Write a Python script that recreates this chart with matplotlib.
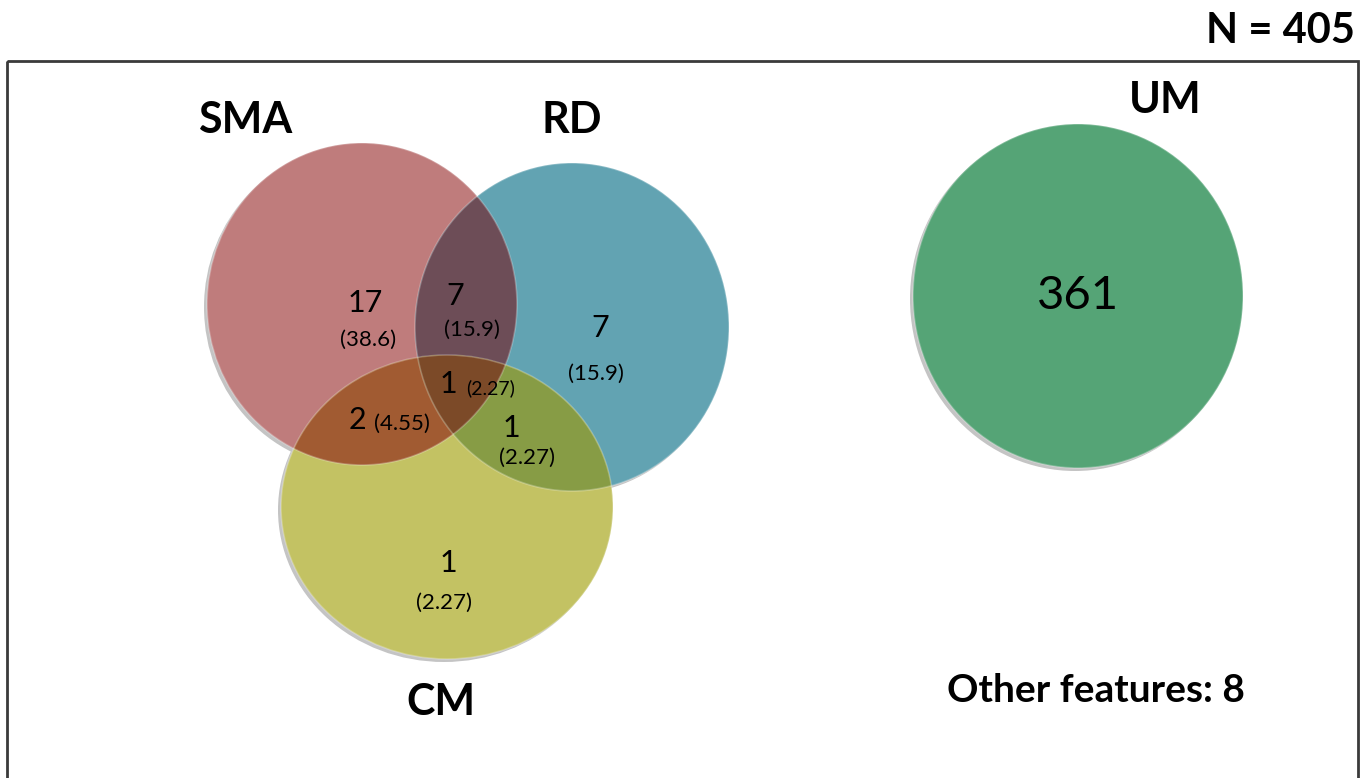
import matplotlib
matplotlib.use("Agg")
import matplotlib.pyplot as plt
from matplotlib.patches import Ellipse, Polygon, Rectangle
import numpy as np

plt.rcParams['font.family'] = ['Lato', 'DejaVu Sans']

# data
set_names = ["SMA", "RD", "CM", "UM"]
region_keys = ["SMA", "SMA&RD", "RD", "SMA&CM", "SMA&RD&CM", "RD&CM", "CM", "UM"]
region_counts = [17, 7, 7, 2, 1, 1, 1, 361]
region_pcts = ["38.6", "15.9", "15.9", "4.55", "2.27", "2.27", "2.27", None]
total_n = 405
other_features = 8

# layout (pixels, y downwards)
ell = {
    "SMA": (362, 304, 155, 161),
    "RD": (572, 327, 157, 164),
    "CM": (447, 507, 166, 152),
    "UM": (1078, 296, 165, 172),
}
colors = {
    "SMA": "#bf7c7c",
    "RD": "#62a3b2",
    "CM": "#c3c263",
    "UM": "#55a476",
    "SMA&RD": "#6d4d57",
    "SMA&CM": "#a15b32",
    "RD&CM": "#879c45",
    "SMA&RD&CM": "#7c4a28",
}
title_pos = {"SMA": (245, 120), "RD": (572, 120), "CM": (441, 702), "UM": (1165, 100)}
# position of count, position of pct
label_pos = {
    "SMA": ((365, 303), (368, 340)),
    "SMA&RD": ((455, 296), (472, 330)),
    "RD": ((600, 328), (596, 374)),
    "SMA&CM": ((357, 420), (402, 424)),
    "SMA&RD&CM": ((448, 384), (491, 388)),
    "RD&CM": ((511, 428), (527, 458)),
    "CM": ((448, 563), (444, 603)),
    "UM": ((1078, 296), None),
}

W, H = 1362, 778
fig = plt.figure(figsize=(W / 100, H / 100), dpi=100)
ax = fig.add_axes([0, 0, 1, 1])
ax.set_xlim(0, W)
ax.set_ylim(H, 0)
ax.axis("off")


def ell_pts(name, n=720):
    cx, cy, rx, ry = ell[name]
    t = np.linspace(0, 2 * np.pi, n, endpoint=False)
    return np.c_[cx + rx * np.cos(t), cy + ry * np.sin(t)]


def inside(pts, name):
    cx, cy, rx, ry = ell[name]
    return ((pts[:, 0] - cx) / rx) ** 2 + ((pts[:, 1] - cy) / ry) ** 2 <= 1.0 + 1e-9


def intersect(names):
    pts = np.vstack([ell_pts(n) for n in names])
    keep = np.ones(len(pts), bool)
    for n in names:
        keep &= inside(pts, n)
    pts = pts[keep]
    c = pts.mean(axis=0)
    ang = np.arctan2(pts[:, 1] - c[1], pts[:, 0] - c[0])
    return pts[np.argsort(ang)]


# frame
ax.add_patch(Rectangle((7, 61), 1351, 760, fill=False, ec="#3a3a3a", lw=2, zorder=1))

# shadows
for name in set_names:
    cx, cy, rx, ry = ell[name]
    ax.add_patch(Ellipse((cx - 3, cy + 3), 2 * rx, 2 * ry, fc="#c4c4c4", ec="none", zorder=2))

for name in set_names:
    cx, cy, rx, ry = ell[name]
    ax.add_patch(Ellipse((cx, cy), 2 * rx, 2 * ry, fc=colors[name], ec="none", zorder=3))

for key in ["SMA&RD", "SMA&CM", "RD&CM", "SMA&RD&CM"]:
    ax.add_patch(Polygon(intersect(key.split("&")), closed=True, fc=colors[key], ec="none", zorder=4))

# faint rims
for name in set_names:
    cx, cy, rx, ry = ell[name]
    ax.add_patch(Ellipse((cx, cy), 2 * rx, 2 * ry, fc="none", ec="white", lw=1.2, alpha=0.25, zorder=5))

for name in set_names:
    x, y = title_pos[name]
    ax.text(x, y, name, fontsize=31, fontweight="bold", ha="center", va="center", zorder=6)

for key, cnt, pct in zip(region_keys, region_counts, region_pcts):
    (x1, y1), p2 = label_pos[key]
    if key == "UM":
        ax.text(x1, y1, str(cnt), fontsize=34, ha="center", va="center", zorder=6)
        continue
    ax.text(x1, y1, str(cnt), fontsize=22, ha="center", va="center", zorder=6)
    small = key == "SMA&RD&CM"
    ax.text(p2[0], p2[1], "(" + pct + ")", fontsize=14 if small else 16, ha="center", va="center", zorder=6)

ax.text(1355, 31, "N = %d" % total_n, fontsize=30, fontweight="bold", ha="right", va="center")
ax.text(1096, 691, "Other features: %d" % other_features, fontsize=28, fontweight="bold",
        ha="center", va="center")

fig.savefig("out.png", dpi=100)
